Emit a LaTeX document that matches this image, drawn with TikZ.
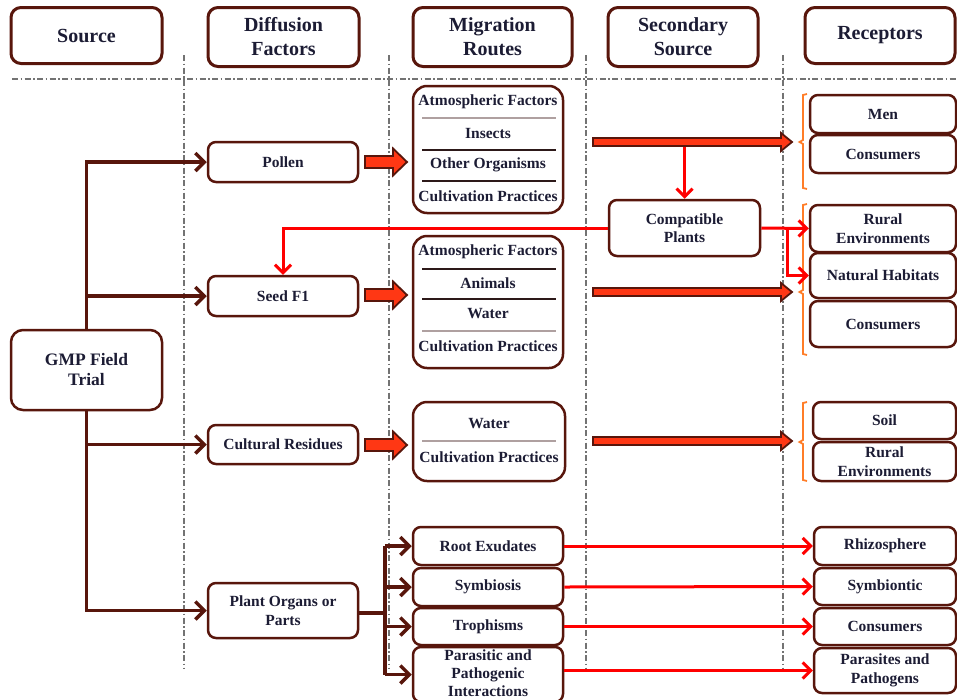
\documentclass[tikz,border=0pt]{standalone}
\usepackage{fontspec}
\setmainfont{Liberation Serif}
\usetikzlibrary{arrows.meta,calc}
\definecolor{brn}{RGB}{88,22,12}
\definecolor{txt}{RGB}{28,28,52}
\definecolor{blk}{RGB}{255,55,20}
\definecolor{org}{RGB}{255,125,40}
\definecolor{dsh}{RGB}{115,115,115}
\definecolor{sepg}{RGB}{175,160,160}
\definecolor{sepd}{RGB}{45,25,25}
\tikzset{
 hdr/.style={draw=brn, line width=3pt, rounded corners=10pt, fill=white, align=center, text=txt, font=\fontsize{20}{24}\selectfont\bfseries, inner sep=0pt},
 bx/.style={draw=brn, line width=2.5pt, rounded corners=8pt, fill=white, align=center, text=txt, font=\fontsize{15.5}{18.5}\selectfont\bfseries, inner sep=0pt},
 bigbx/.style={bx, rounded corners=14pt},
 lbl/.style={text=txt, font=\fontsize{15.5}{18.5}\selectfont\bfseries, align=center, inner sep=0pt},
 dd/.style={dsh, line width=1.3pt, dash pattern=on 6pt off 2.5pt on 1.5pt off 2.5pt},
 brnarr/.style={brn, line width=3.5pt, -{Straight Barb[length=9pt,width=18pt]}},
 brnline/.style={brn, line width=3.5pt},
 redarr/.style={red, line width=3pt, -{Straight Barb[length=8pt,width=16pt]}},
 sepgray/.style={sepg, line width=2.5pt},
 sepdark/.style={sepd, line width=1.3pt},
 brk/.style={org, line width=1.8pt},
 blkarr/.style={fill=blk, draw=brn, line width=1.8pt, line join=miter},
}
\newcommand\fatarrow[6]{%
 \draw[blkarr] (#1,#3-#4) -- (#2-#6,#3-#4) -- (#2-#6,#3-#5) -- (#2,#3) -- (#2-#6,#3+#5) -- (#2-#6,#3+#4) -- (#1,#3+#4) -- cycle;}
\newcommand\obrk[4]{%
 \draw[brk] (#1+4,#2) -- (#1,#2+1) -- (#1,#4-2) -- (#1-3.5,#4) -- (#1,#4+2) -- (#1,#3-1) -- (#1+4,#3);}
\begin{document}
\begin{tikzpicture}[x=1pt,y=-1pt]
\clip (0,0) rectangle (957,699);
\fill[white] (0,0) rectangle (957,699);
% dash-dot guides
\draw[dd] (12,79) -- (957,79);
\foreach \xx in {184,389,586,783} \draw[dd] (\xx,55) -- (\xx,668);
% headers
\node[hdr, minimum width=151pt, minimum height=56pt] (hsrc) at (86.5,35.5) {Source};
\node[hdr, minimum width=151pt, minimum height=59pt] (hdif) at (283.5,37) {Diffusion\\Factors};
\node[hdr, minimum width=159pt, minimum height=59pt] (hmig) at (492.5,37) {Migration\\Routes};
\node[hdr, minimum width=150pt, minimum height=59pt] (hsec) at (683,37) {Secondary\\Source};
\node[hdr, minimum width=150pt, minimum height=56pt] (hrec) at (880,35.5) {Receptors};
% source
\node[bx, rounded corners=12pt, minimum width=151pt, minimum height=80pt, font=\fontsize{17.5}{20}\selectfont\bfseries] (gmp) at (86.5,370) {GMP Field\\Trial};
% diffusion factors
\node[bx, minimum width=150pt, minimum height=40pt] (pollen) at (283,162) {Pollen};
\node[bx, minimum width=150pt, minimum height=40pt] (seed) at (283,296) {Seed F1};
\node[bx, minimum width=150pt, minimum height=39pt] (cult) at (283,444.5) {Cultural Residues};
\node[bx, minimum width=150pt, minimum height=55pt] (organs) at (283,610.5) {Plant Organs or\\Parts};
% source connectors
\draw[brnarr] (gmp.north) |- (pollen.west);
\draw[brnarr] (gmp.north) |- (seed.west);
\draw[brnarr] (gmp.south) |- (cult.west);
\draw[brnarr] (gmp.south) |- (organs.west);
% migration boxes
\node[bigbx, minimum width=150pt, minimum height=127pt] (m1) at (488,149.5) {};
\node[lbl] (m1a) at (488,102) {Atmospheric Factors};
\node[lbl] (m1b) at (488,133) {Insects};
\node[lbl] (m1c) at (488,165) {Other Organisms};
\node[lbl] (m1d) at (488,196) {Cultivation Practices};
\draw[sepgray] (422,118) -- (556,118);
\draw[sepdark] (422,150) -- (556,150);
\draw[sepdark] (422,181) -- (556,181);
\node[bigbx, minimum width=150pt, minimum height=132pt] (m2) at (488,302) {};
\node[lbl] (m2a) at (488,252) {Atmospheric Factors};
\node[lbl] (m2b) at (488,283) {Animals};
\node[lbl] (m2c) at (488,314) {Water};
\node[lbl] (m2d) at (488,346) {Cultivation Practices};
\draw[sepdark] (422,269) -- (556,269);
\draw[sepdark] (422,299) -- (556,299);
\draw[sepgray] (422,331) -- (556,331);
\node[bigbx, minimum width=152pt, minimum height=79pt] (m3) at (489,441.5) {};
\node[lbl] (m3a) at (489,424) {Water};
\node[lbl] (m3b) at (489,457) {Cultivation Practices};
\draw[sepgray] (422,441) -- (556,441);
% lower migration boxes
\node[bx, minimum width=150pt, minimum height=38pt] (root) at (488,546) {Root Exudates};
\node[bx, minimum width=150pt, minimum height=38pt] (symb) at (488,587) {Symbiosis};
\node[bx, minimum width=150pt, minimum height=37pt] (troph) at (488,626.5) {Trophisms};
\node[bx, minimum width=150pt, minimum height=55pt] (para) at (488,674.5) {};
\node[lbl, font=\fontsize{15.5}{18}\selectfont\bfseries] (paratxt) at (488,673) {Parasitic and\\Pathogenic\\Interactions};
% fat arrows diffusion -> migration
\fatarrow{365}{407}{162}{6}{13.5}{14}
\fatarrow{365}{407}{295}{6}{13.5}{14}
\fatarrow{365}{407}{445}{6}{13.5}{14}
% fat arrows secondary
\fatarrow{593}{792}{142}{4}{9}{11}
\fatarrow{593}{792}{292}{4}{9}{11}
\fatarrow{593}{792}{441}{4}{9}{11}
\coordinate (ba1) at (684.5,146.5);
% compatible plants
\node[bx, minimum width=151pt, minimum height=56pt] (compat) at (684.5,228) {Compatible\\Plants};
% receptors
\node[bx, minimum width=146pt, minimum height=38pt] (men) at (883,114) {Men};
\node[bx, minimum width=146pt, minimum height=38pt] (con1) at (883,154) {Consumers};
\node[bx, minimum width=146pt, minimum height=47pt] (rural1) at (883,228.5) {Rural\\Environments};
\node[bx, minimum width=146pt, minimum height=45pt] (nat) at (883,275.5) {Natural Habitats};
\node[bx, minimum width=146pt, minimum height=46pt] (con2) at (883,324) {Consumers};
\node[bx, minimum width=143pt, minimum height=37pt] (soil) at (884.5,420.5) {Soil};
\node[bx, minimum width=143pt, minimum height=39pt] (rural2) at (884.5,461.5) {Rural\\Environments};
\node[bx, minimum width=142pt, minimum height=38pt] (rhizo) at (885,546) {Rhizosphere};
\node[bx, minimum width=142pt, minimum height=37pt] (symr) at (885,586.5) {Symbiontic};
\node[bx, minimum width=142pt, minimum height=37pt] (con3) at (885,626.5) {Consumers};
\node[bx, minimum width=142pt, minimum height=45pt] (prec) at (885,670.5) {Parasites and\\Pathogens};
% brackets
\obrk{803}{94}{189}{142}
\obrk{803}{204}{355}{292}
\obrk{803}{402}{481}{442}
% red connectors
\draw[redarr] (ba1) -- (compat.north);
\draw[redarr] (compat.west) -| (seed.north);
\draw[redarr] (compat.east) -- (rural1.west);
\coordinate (fork2) at (787,228.5);
\draw[redarr] (fork2) |- (nat.west);
\draw[redarr] (root.east) -- (rhizo.west);
\draw[redarr] (symb.east) -- (symr.west);
\draw[redarr] (troph.east) -- (con3.west);
\draw[redarr] (para.east |- prec.west) -- (prec.west);
% plant organs fork
\coordinate (fk) at (385,613);
\draw[brnline] (organs.east |- fk) -- (fk);
\draw[brnline] (385,546) -- (385,674.5);
\draw[brnarr] (fk |- root.west) -- (root.west);
\draw[brnarr] (fk |- symb.west) -- (symb.west);
\draw[brnarr] (fk |- troph.west) -- (troph.west);
\draw[brnarr] (fk |- para.west) -- (para.west);
\end{tikzpicture}
\end{document}
